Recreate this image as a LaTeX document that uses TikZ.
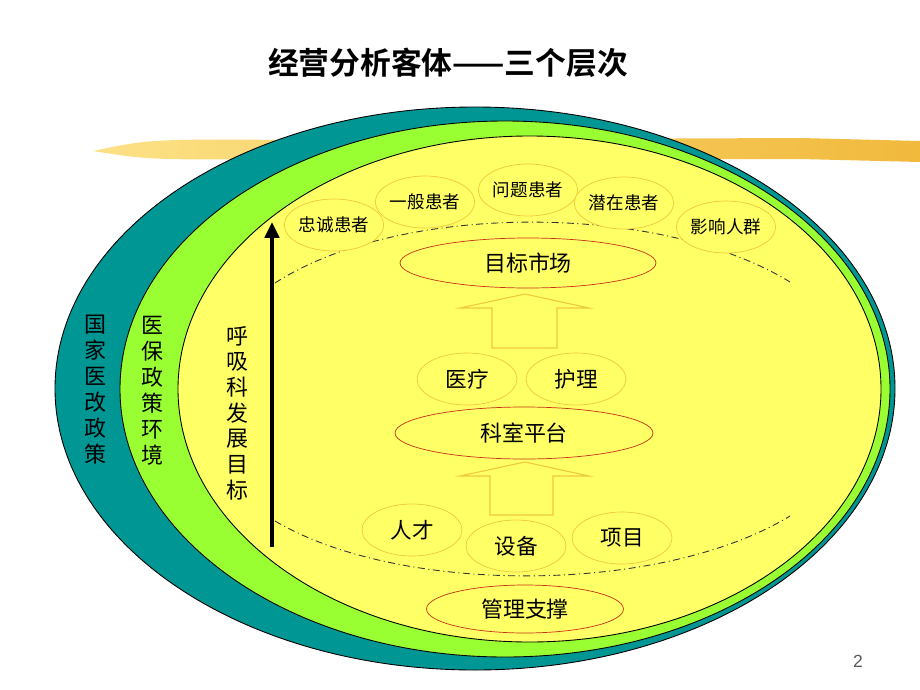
\documentclass[tikz,border=0pt]{standalone}
\usepackage{fontspec}
\setmainfont{Liberation Sans}
\newfontfamily\cjk{Noto Sans CJK SC}
\newfontfamily\cjkbf{Noto Sans CJK SC Bold}
\usetikzlibrary{shapes.geometric}
\usetikzlibrary{arrows.meta}

\definecolor{nationteal}{RGB}{0,150,148}
\definecolor{insgreen}{RGB}{153,255,51}
\definecolor{deptyellow}{RGB}{255,255,102}
\definecolor{goldline}{RGB}{240,200,60}
\definecolor{levelred}{RGB}{200,50,20}
\definecolor{streakleft}{RGB}{252,222,120}
\definecolor{streakright}{RGB}{240,178,40}

\begin{document}
\begin{tikzpicture}[x=0.02cm,y=-0.02cm]
					\tikzstyle{patient}=[ellipse,draw=goldline,fill=deptyellow,inner sep=0,minimum width=1.92cm,minimum height=1.04cm,font=\cjk\fontsize{10}{12}\selectfont]
					\tikzstyle{part}=[patient,minimum width=2cm,font=\cjk\fontsize{12.3}{14}\selectfont]
					\tikzstyle{level}=[ellipse,draw=levelred,fill=deptyellow,inner sep=0,minimum height=1cm,font=\cjk\fontsize{12.5}{14}\selectfont]
					\tikzstyle{ring}=[draw=black,line width=0.5pt]
					\tikzstyle{upward}=[draw=goldline,fill=deptyellow,line width=0.6pt]
					\tikzstyle{boundary}=[dash pattern=on 4pt off 2pt on 0.6pt off 2pt,draw=black!80,line width=0.5pt]
					\tikzstyle{vtext}=[align=center,font=\cjk\fontsize{12.5}{14.8}\selectfont]

					\useasboundingbox (0,0) rectangle (920,690);

					\node (title) at (448,63) {\cjkbf\fontsize{17.5}{20}\selectfont 经营分析客体——三个层次};

					\shade[left color=streakleft,right color=streakright,opacity=0.9]
						(93,151) .. controls (150,139) .. (300,140) -- (800,138) .. controls (880,140) .. (920,141)
						-- (920,162) .. controls (860,160) .. (800,159) -- (300,159) .. controls (150,160) .. (93,151) -- cycle;

					\draw [ring, fill=nationteal] (475,388.5) ellipse (420 and 281.5);
					\draw [ring, fill=insgreen] (505,389) ellipse (385 and 268);
					\draw [ring, fill=deptyellow] (529.5,389) ellipse (351.5 and 253);

					\node [vtext] (nation) at (95,390) {国\\家\\医\\改\\政\\策};
					\node [vtext] (insure) at (152,391) {医\\保\\政\\策\\环\\境};
					\node [vtext,font=\cjk\fontsize{12.5}{14.6}\selectfont] (goal) at (237,413) {呼\\吸\\科\\发\\展\\目\\标};

					\coordinate (goalfoot) at (272,547);
					\coordinate (goaltip) at (272,222);
					\draw [-{Triangle[length=9pt,width=8pt]}, line width=2.3pt] (goalfoot) -- (goaltip);

					\draw [boundary] (275,283) .. controls (400,202) and (660,202) .. (790,282);
					\draw [boundary] (275,521) .. controls (400,595) and (660,595) .. (790,516);

					\draw [upward] (492,348) -- (492,308) -- (460,308) -- (525,294) -- (589,308) -- (557,308) -- (557,348) -- cycle;
					\draw [upward] (490,515) -- (490,476) -- (460,476) -- (525,462) -- (589,476) -- (553,476) -- (553,515) -- cycle;

					\node [patient] (loyal) at (334,225) {忠诚患者};
					\node [patient] (general) at (425,202) {一般患者};
					\node [patient] (problem) at (528,190) {问题患者};
					\node [patient] (potential) at (624,203) {潜在患者};
					\node [patient] (influence) at (726,227) {影响人群};
					\node [level, minimum width=5.12cm] (market) at (528,263) {目标市场};

					\node [part] (medical) at (467,379) {医疗};
					\node [part] (nursing) at (576,379) {护理};
					\node [level, minimum width=5.16cm, minimum height=1.04cm] (platform) at (524,433) {科室平台};

					\node [part] (talent) at (412,530) {人才};
					\node [part] (equip) at (516,546) {设备};
					\node [part] (project) at (622,538) {项目};
					\node [level, minimum width=3.94cm, minimum height=0.96cm] (support) at (525,609) {管理支撑};

					\node [text=black!65, font=\fontsize{10}{12}\selectfont] (page) at (858,661) {2};
				\end{tikzpicture}
\end{document}
